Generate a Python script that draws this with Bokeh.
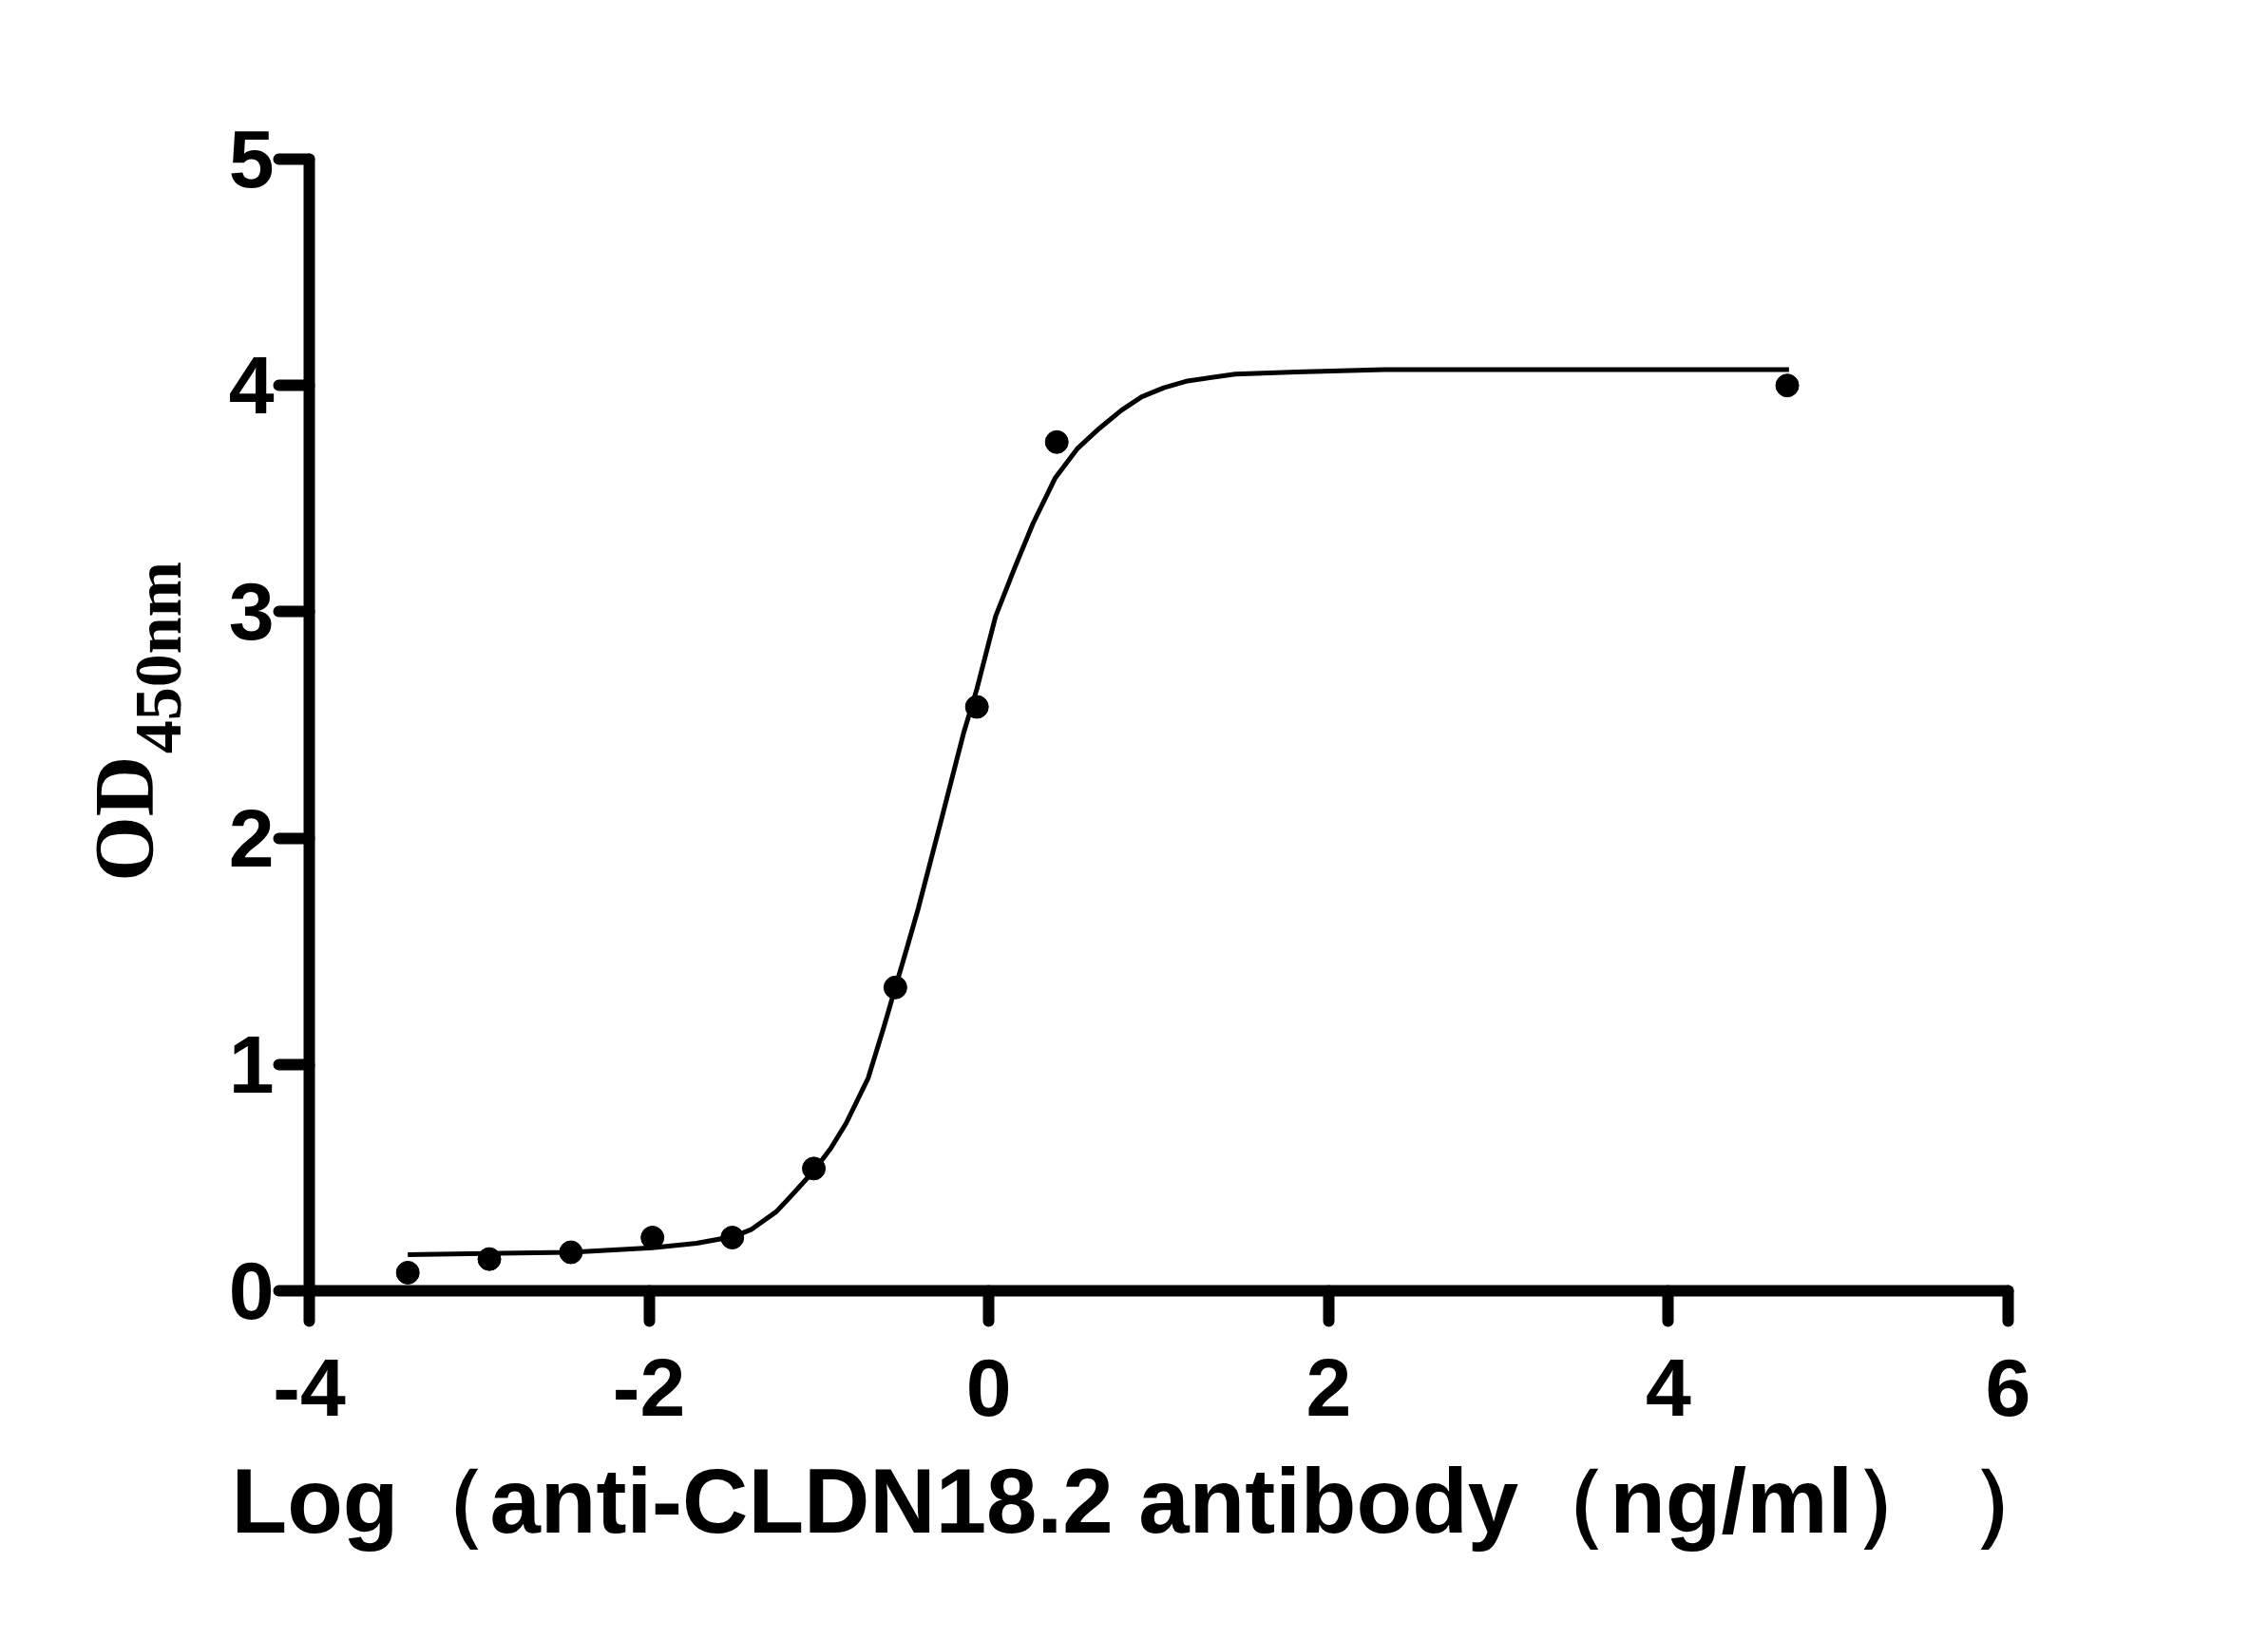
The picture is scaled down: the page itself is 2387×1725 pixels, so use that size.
import math
from bokeh.plotting import figure
from bokeh.layouts import row
from bokeh.models import FixedTicker, ColumnDataSource
from bokeh.core.properties import value
from bokeh.embed import file_html
from bokeh.resources import INLINE

# ---- data ----
log_conc = [-3.42, -2.94, -2.46, -1.98, -1.51, -1.03, -0.55, -0.07, 0.40, 4.70]
od450 = [0.08, 0.14, 0.17, 0.235, 0.235, 0.54, 1.34, 2.58, 3.75, 4.00]

# fitted curve, points
curve_x = [-3.42, -2.46, -1.98, -1.72, -1.50, -1.40, -1.25, -1.15, -1.03, -0.93,
           -0.84, -0.71, -0.62, -0.55, -0.48, -0.415, -0.28, -0.15, -0.07, 0.04,
           0.15, 0.26, 0.39, 0.52, 0.65, 0.78, 0.90, 1.03, 1.17, 1.45, 1.81,
           2.33, 4.71]
curve_y = [0.16, 0.17, 0.19, 0.21, 0.24, 0.27, 0.35, 0.43, 0.53, 0.63,
           0.74, 0.94, 1.16, 1.34, 1.52, 1.69, 2.08, 2.46, 2.66, 2.98,
           3.19, 3.39, 3.59, 3.72, 3.81, 3.89, 3.95, 3.99, 4.02, 4.05, 4.06,
           4.07, 4.07]

x_ticks = [-4, -2, 0, 2, 4, 6]
x_tick_labels = ["-4", "-2", "0", "2", "4", "6"]
y_ticks = [0, 1, 2, 3, 4, 5]
y_tick_labels = ["0", "1", "2", "3", "4", "5"]

x_title = "Log（anti-CLDN18.2 antibody（ng/ml）  ）"
y_title_main = "OD"
y_title_sub = "450nm"

TOTAL_H = 1717
LEFT_W = 200

# ---- narrow panel holding the y-axis title ----
ytitle = figure(width=LEFT_W, height=TOTAL_H, x_range=(0, LEFT_W),
                y_range=(0, TOTAL_H), output_backend="svg",
                toolbar_location=None, x_axis_location=None,
                y_axis_location=None, min_border=0)
ytitle.outline_line_color = None
ytitle.xgrid.visible = False
ytitle.ygrid.visible = False
ytitle.background_fill_color = "white"
ytitle.border_fill_color = "white"
ytitle.text(x=[130], y=[621], text=[y_title_main], angle=math.pi / 2,
            text_font=value("Liberation Serif"), text_font_style="bold",
            text_font_size="88px", text_align="left",
            text_baseline="alphabetic", text_color="black")
ytitle.text(x=[166], y=[815], text=[y_title_sub], angle=math.pi / 2,
            text_font=value("Liberation Serif"), text_font_style="bold",
            text_font_size="70px", text_align="left",
            text_baseline="alphabetic", text_color="black")

# ---- main figure ----
p = figure(width=2380 - LEFT_W, height=TOTAL_H, x_range=(-4, 6), y_range=(0, 5),
           output_backend="svg", toolbar_location=None,
           min_border_left=325 - LEFT_W, min_border_right=267,
           min_border_top=167, min_border_bottom=359)
p.outline_line_color = None
p.xgrid.visible = False
p.ygrid.visible = False
p.background_fill_color = "white"
p.border_fill_color = "white"

for ax, ticks, labels in ((p.xaxis[0], x_ticks, x_tick_labels),
                          (p.yaxis[0], y_ticks, y_tick_labels)):
    ax.ticker = FixedTicker(ticks=ticks)
    ax.major_label_overrides = {t: l for t, l in zip(ticks, labels)}
    ax.axis_line_width = 12
    ax.axis_line_color = "black"
    ax.axis_line_cap = "round"
    ax.major_tick_line_width = 12
    ax.major_tick_line_cap = "round"
    ax.major_tick_line_color = "black"
    ax.major_tick_in = 0
    ax.major_tick_out = 32
    ax.minor_tick_line_color = None
    ax.major_label_text_font = "Liberation Sans"
    ax.major_label_text_font_style = "bold"
    ax.major_label_text_font_size = "86px"
    ax.major_label_text_color = "black"

p.xaxis[0].major_label_standoff = 40
p.yaxis[0].major_label_standoff = 5

xa = p.xaxis[0]
xa.axis_label = x_title
xa.axis_label_text_font = "Liberation Sans"
xa.axis_label_text_font_style = "bold"
xa.axis_label_text_font_size = "96px"
xa.axis_label_text_color = "black"
xa.axis_label_standoff = 33

src_pts = ColumnDataSource(dict(x=log_conc, y=od450))
src_fit = ColumnDataSource(dict(x=curve_x, y=curve_y))

p.line("x", "y", source=src_fit, line_color="black", line_width=5,
       line_join="round")
p.scatter("x", "y", source=src_pts, size=24, marker="circle",
          fill_color="black", line_color="black")

layout = row(ytitle, p, spacing=0)
open("out.html", "w").write(file_html(layout, INLINE))
